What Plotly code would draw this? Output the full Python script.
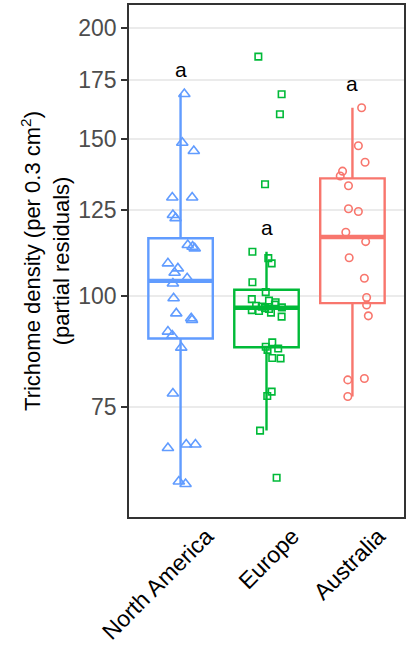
import numpy as np
import plotly.graph_objects as go

# Regions (x categories) and their plotting styles
regions = ["North America", "Europe", "Australia"]
colors = ["#619CFF", "#00BA38", "#F8766D"]
symbols = ["triangle-up-open", "square-open", "circle-open"]
marker_sizes = [10, 6.5, 7.5]
letters = ["a", "a", "a"]

# Trichome density (partial residuals) per plant, with horizontal jitter
na_density = [168.6, 148.6, 145.5, 129.0, 129.0, 123.3, 122.3, 114.1, 113.6, 113.1,
              108.8, 107.4, 106.2, 104.7, 103.3, 99.4, 95.6, 94.4, 94.0, 91.2,
              90.3, 87.5, 77.7, 68.1, 68.1, 67.5, 61.9, 61.5]
na_jitter = [0.044, 0.020, 0.154, -0.096, 0.135, -0.089, -0.058, 0.084, 0.140, 0.165,
             -0.147, -0.031, -0.069, 0.077, -0.089, -0.081, -0.050, 0.124, 0.133, -0.147,
             -0.096, 0.008, -0.089, 0.066, 0.173, -0.147, -0.020, 0.058]

eu_density = [185.7, 168.5, 160.0, 133.5, 112.1, 110.3, 108.8, 103.6, 101.0, 99.2,
              98.8, 98.4, 97.8, 97.5, 97.3, 97.1, 96.9, 96.7, 96.4, 96.2,
              95.8, 94.8, 88.7, 87.7, 87.3, 87.0, 85.2, 85.1, 78.1, 77.2,
              70.6, 62.5]
eu_jitter = [-0.095, 0.176, 0.156, -0.017, -0.164, 0.021, 0.060, -0.164, -0.009, -0.171,
             0.029, 0.106, 0.098, -0.121, -0.055, 0.179, -0.017, 0.029, -0.171, -0.087,
             0.052, 0.176, 0.067, -0.009, 0.136, 0.012, 0.067, 0.164, 0.060, 0.009,
             -0.075, 0.118]

au_density = [162.7, 147.5, 141.3, 138.1, 136.4, 133.0, 125.3, 124.4, 117.9, 115.1,
              110.4, 104.7, 99.6, 97.7, 95.0, 80.8, 80.5, 77.1]
au_jitter = [0.107, 0.069, 0.147, -0.115, -0.142, -0.046, -0.046, 0.069, -0.077, 0.154,
             -0.038, 0.139, 0.165, 0.165, 0.185, 0.139, -0.054, -0.054]

densities = [na_density, eu_density, au_density]
jitters = [na_jitter, eu_jitter, au_jitter]

box_width = 0.75


def box_stats(values):
    """Tukey box statistics computed on the log10 scale."""
    lv = np.log10(np.asarray(values, dtype=float))
    q1, med, q3 = np.percentile(lv, [25, 50, 75])
    iqr = q3 - q1
    lo = lv[lv >= q1 - 1.5 * iqr].min()
    hi = lv[lv <= q3 + 1.5 * iqr].max()
    return {k: 10 ** v for k, v in
            dict(q1=q1, median=med, q3=q3, lower=lo, upper=hi).items()}


fig = go.Figure()

for i, (name, vals, jit) in enumerate(zip(regions, densities, jitters)):
    pos = i + 1
    st = box_stats(vals)
    col = colors[i]
    fig.add_trace(go.Box(
        x=[pos], q1=[st["q1"]], median=[st["median"]], q3=[st["q3"]],
        lowerfence=[st["lower"]], upperfence=[st["upper"]],
        width=box_width, boxpoints=False,
        line=dict(color=col, width=2.4), fillcolor="rgba(0,0,0,0)",
        whiskerwidth=0, showlegend=False, hoverinfo="skip",
    ))
    # heavier median bar
    fig.add_trace(go.Scatter(
        x=[pos - box_width / 2, pos + box_width / 2],
        y=[st["median"], st["median"]], mode="lines",
        line=dict(color=col, width=4.4), showlegend=False, hoverinfo="skip",
    ))
    fig.add_trace(go.Scatter(
        x=[pos + j for j in jit], y=vals, mode="markers",
        marker=dict(symbol=symbols[i], size=marker_sizes[i], color=col,
                    line=dict(color=col, width=1.6)),
        showlegend=False, name=name,
    ))
    fig.add_annotation(
        x=pos, y=np.log10(st["upper"] * 1.06), text=letters[i],
        showarrow=False, xanchor="center", yanchor="middle", yshift=2,
        font=dict(size=21, color="black", family="Liberation Sans"),
    )

fig.update_layout(
    width=407, height=651,
    margin=dict(l=129, r=1, t=5, b=134),
    paper_bgcolor="white", plot_bgcolor="white",
    boxmode="overlay",
    font=dict(family="Liberation Sans", size=20, color="#4D4D4D"),
)

fig.update_xaxes(
    range=[0.4, 3.6], tickvals=[1, 2, 3], ticktext=regions,
    tickangle=-45, ticks="", showgrid=False, zeroline=False,
    showline=True, mirror=True, linecolor="#333333", linewidth=1.6,
    tickfont=dict(size=23, color="black"), ticklabelshift=26,
    ticklabelstandoff=-5,
)

fig.update_yaxes(
    type="log", range=[1.7518, 2.3268],
    tickvals=[75, 100, 125, 150, 175, 200],
    ticktext=["75", "100", "125", "150", "175", "200"],
    ticks="outside", ticklen=6, tickwidth=1.6, tickcolor="#333333",
    tickfont=dict(size=23, color="#4D4D4D"),
    showgrid=True, gridcolor="#EBEBEB", gridwidth=1.8, zeroline=False,
    showline=True, mirror=True, linecolor="#333333", linewidth=1.6,
    title=dict(text="Trichome density (per 0.3 cm<sup>2</sup>)<br>(partial residuals)",
               font=dict(size=22, color="black"), standoff=3),
)

fig.write_html("out.html")
